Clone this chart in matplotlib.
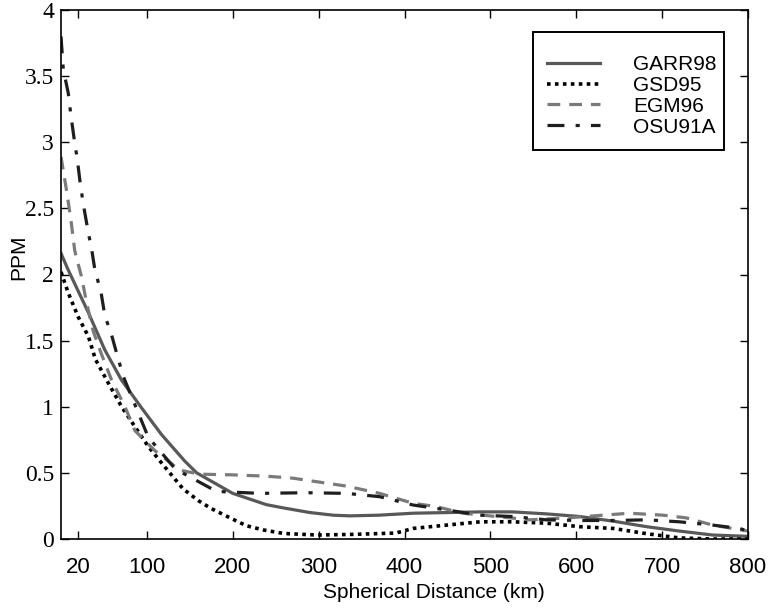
import matplotlib
matplotlib.use("Agg")
import matplotlib.pyplot as plt
from matplotlib.patches import Rectangle

# ---- data ----
garr_x = [0, 8, 16, 32, 51, 70.6, 94, 117, 144, 158, 200, 239, 259, 290, 317, 336, 370, 410, 450, 488, 526, 565, 604, 643, 682, 720, 759, 800]
garr_y = [2.16, 2.04, 1.93, 1.71, 1.43, 1.20, 0.99, 0.79, 0.59, 0.50, 0.345, 0.26, 0.235, 0.20, 0.18, 0.175, 0.18, 0.195, 0.20, 0.205, 0.205, 0.19, 0.17, 0.135, 0.093, 0.06, 0.03, 0.02]

gsd_x = [0, 8.5, 20, 32, 40, 55, 70.6, 86, 101.6, 119, 142, 160, 175, 200, 216, 236, 259, 298, 340, 390, 410, 449, 488, 526, 565, 604, 643, 682, 720, 760, 800]
gsd_y = [2.02, 1.86, 1.68, 1.53, 1.36, 1.18, 1.0, 0.85, 0.70, 0.56, 0.38, 0.29, 0.23, 0.15, 0.10, 0.068, 0.042, 0.03, 0.035, 0.045, 0.08, 0.105, 0.13, 0.13, 0.12, 0.093, 0.08, 0.04, 0.008, 0.0, 0.0]

egm_x = [0, 6.6, 11.6, 16, 24, 30, 37.6, 47, 59, 74.5, 86, 109, 138.5, 162, 200, 239, 270, 301, 332.5, 371, 410, 437, 468, 507, 546, 590, 631, 662, 701, 728, 759, 800]
egm_y = [2.89, 2.63, 2.41, 2.18, 1.98, 1.78, 1.57, 1.40, 1.20, 1.0, 0.82, 0.67, 0.52, 0.49, 0.485, 0.475, 0.46, 0.43, 0.40, 0.345, 0.27, 0.245, 0.195, 0.17, 0.145, 0.16, 0.18, 0.195, 0.18, 0.16, 0.105, 0.06]

osu_x = [0, 2.7, 8.5, 11.6, 15, 19, 22, 26, 32, 35.7, 39.6, 46.5, 51, 59, 65, 72.5, 82, 101.6, 133, 181, 231.6, 286, 332.5, 371, 410, 449, 488, 526, 565, 604, 643, 682, 720, 759, 790, 800]
osu_y = [3.8, 3.55, 3.37, 3.2, 3.04, 2.87, 2.71, 2.53, 2.31, 2.19, 2.03, 1.87, 1.69, 1.54, 1.40, 1.23, 1.08, 0.77, 0.53, 0.36, 0.345, 0.35, 0.345, 0.32, 0.257, 0.22, 0.18, 0.17, 0.145, 0.14, 0.14, 0.145, 0.13, 0.105, 0.08, 0.06]

labels = ["GARR98", "GSD95", "EGM96", "OSU91A"]
xticks = [20, 100, 200, 300, 400, 500, 600, 700, 800]
xticklabels = ["20", "100", "200", "300", "400", "500", "600", "700", "800"]
yticks = [0, 0.5, 1, 1.5, 2, 2.5, 3, 3.5, 4]
yticklabels = ["0", "0.5", "1", "1.5", "2", "2.5", "3", "3.5", "4"]

fig = plt.figure(figsize=(7.72, 6.10), dpi=100)
ax = fig.add_axes([61/772, 71/610, 687/772, 529/610])

lw = 2.3
ax.plot(garr_x, garr_y, color="#585858", lw=lw, ls="-", label=labels[0])
ax.plot(gsd_x, gsd_y, color="#000000", lw=lw + 0.3, ls=(0, (1, 1.2)), label=labels[1])
ax.plot(egm_x, egm_y, color="#7a7a7a", lw=lw, ls=(0, (4, 2.8)), label=labels[2])
ax.plot(osu_x, osu_y, color="#1e1e1e", lw=lw, ls=(0, (5.3, 3.5, 1.3, 3.5)), label=labels[3])

ax.set_xlim(0, 800)
ax.set_ylim(0, 4)
ax.set_xticks(xticks)
ax.set_xticklabels(xticklabels, fontfamily="Liberation Sans", fontsize=16)
ax.set_yticks(yticks)
ax.set_yticklabels(yticklabels, fontfamily="Liberation Serif", fontsize=17)
ax.tick_params(direction="in", length=6, width=1, top=True, right=True)
ax.tick_params(axis="x", pad=13)
ax.tick_params(axis="y", pad=5)
for s in ax.spines.values():
    s.set_linewidth(1.2)

ax.set_xlabel("Spherical Distance (km)", fontfamily="Liberation Sans", fontsize=15)
ax.xaxis.set_label_coords(0.543, -0.083)
fig.text(19/772, 1 - 257/610, "PPM", fontfamily="Liberation Sans", fontsize=15,
         rotation=90, ha="center", va="center")

leg = ax.legend(loc="upper left", bbox_to_anchor=(0.707, 0.915), frameon=False,
                handlelength=2.55, handletextpad=1.6, labelspacing=0.09,
                borderpad=0, borderaxespad=0,
                prop={"family": "Liberation Sans", "size": 15})
ax.add_patch(Rectangle((0.687, 0.7354), 0.278, 0.223, transform=ax.transAxes,
                       fill=False, edgecolor="black", lw=1.4, zorder=5))

fig.savefig("out.png", dpi=100)
